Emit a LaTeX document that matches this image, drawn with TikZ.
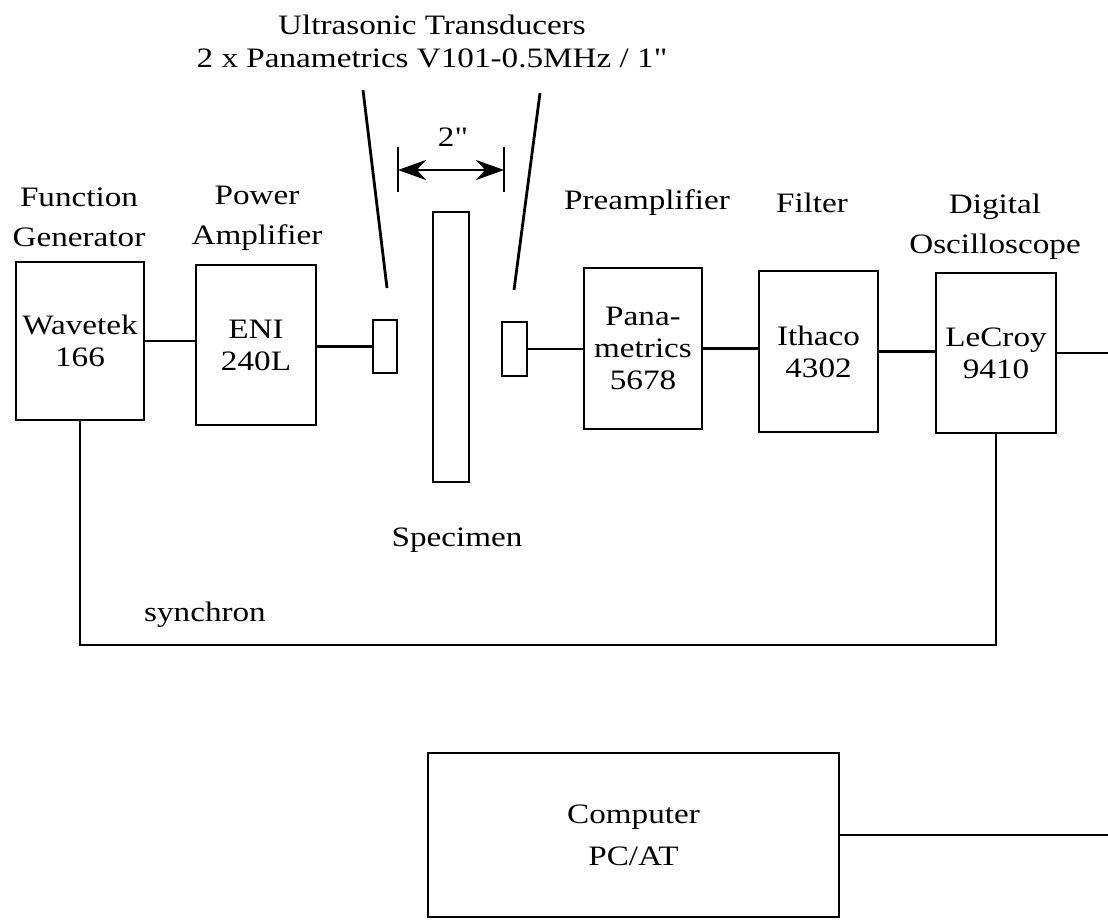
\documentclass[tikz,border=0pt]{standalone}
\usepackage{fontspec}
\setmainfont{Liberation Serif}[FakeStretch=1.18,Ligatures=TeXOff]
\usetikzlibrary{arrows.meta}

\tikzset{
  blk/.style={draw, line width=2pt, align=center, inner sep=0pt,
    font=\fontsize{20}{22.8}\selectfont},
  lbl/.style={align=center, inner sep=0pt},
  wire/.style={line width=2pt},
}

\begin{document}
\begin{tikzpicture}[x=0.025cm,y=-0.025cm,font=\fontsize{20}{28.5}\selectfont,
  >={Stealth[length=7mm,width=5mm]}]
  \useasboundingbox (0,0) rectangle (1108,919);
  % instruments
  \node[blk,minimum width=3.2cm,minimum height=3.95cm] (gen) at (80,341) {Wavetek\\166};
  \node[blk,minimum width=3.0cm,minimum height=4.0cm] (pamp) at (256,345) {ENI\\240L};
  \node[blk,minimum width=0.6cm,minimum height=1.325cm] (trL) at (385,346.5) {};
  \node[blk,minimum width=0.9cm,minimum height=6.75cm] (spec) at (451,347) {};
  \node[blk,minimum width=0.625cm,minimum height=1.35cm] (trR) at (514.5,349) {};
  \node[blk,minimum width=2.95cm,minimum height=4.025cm] (pre) at (643,348.5) {Pana-\\metrics\\5678};
  \node[blk,minimum width=2.975cm,minimum height=4.025cm] (filt) at (818.5,351.5) {Ithaco\\4302};
  \node[blk,minimum width=3.0cm,minimum height=4.0cm] (osc) at (996,353) {LeCroy\\9410};
  \node[blk,minimum width=10.275cm,minimum height=4.1cm,
    font=\fontsize{20}{30}\selectfont] (comp) at (633.5,835) {Computer\\PC/AT};
  % labels
  \node[lbl] (genLbl) at (79,217) {Function\\Generator};
  \node[lbl] (pampLbl) at (257,218) {Power\\Amplifier};
  \node[lbl] (preLbl) at (647,203) {Preamplifier};
  \node[lbl] (filtLbl) at (812,203) {Filter};
  \node[lbl] (oscLbl) at (995,227) {Digital\\Oscilloscope};
  \node[lbl,font=\fontsize{20}{23.5}\selectfont] (title) at (432,41)
    {Ultrasonic Transducers\\2 x Panametrics V101-0.5MHz / 1"};
  \node[lbl] (specLbl) at (457,540) {Specimen};
  \node[lbl] (syncLbl) at (205,615) {synchron};
  \node[lbl] (gap) at (453,137) {2"};
  % signal chain
  \draw[wire] (gen.east) -- (gen.east -| pamp.west);
  \draw[wire] (trL.west -| pamp.east) -- (trL.west);
  \draw[wire] (trR.east) -- (trR.east -| pre.west);
  \draw[wire] (pre.east) -- (pre.east -| filt.west);
  \draw[wire] (filt.east) -- (filt.east -| osc.west);
  \coordinate (oscOut) at (1108,353);
  \draw[wire] (osc.east) -- (oscOut);
  \coordinate (compOut) at (1108,835);
  \draw[wire] (comp.east) -- (compOut);
  % trigger line
  \coordinate (sync) at (500,645);
  \draw[wire] (gen.south) |- (sync) -| (osc.south);
  % leaders to transducers
  \coordinate (leadL) at (363,90);
  \coordinate (leadR) at (540,93);
  \draw[wire] (leadL) -- (387,288);
  \draw[wire] (leadR) -- (514,290);
  % spacing of the transducers
  \coordinate (dimL) at (398,170);
  \coordinate (dimR) at (504,170);
  \draw[wire] (398,147) -- (398,192);
  \draw[wire] (504,147) -- (504,192);
  \draw[wire,<->] (dimL) -- (dimR);
\end{tikzpicture}
\end{document}
